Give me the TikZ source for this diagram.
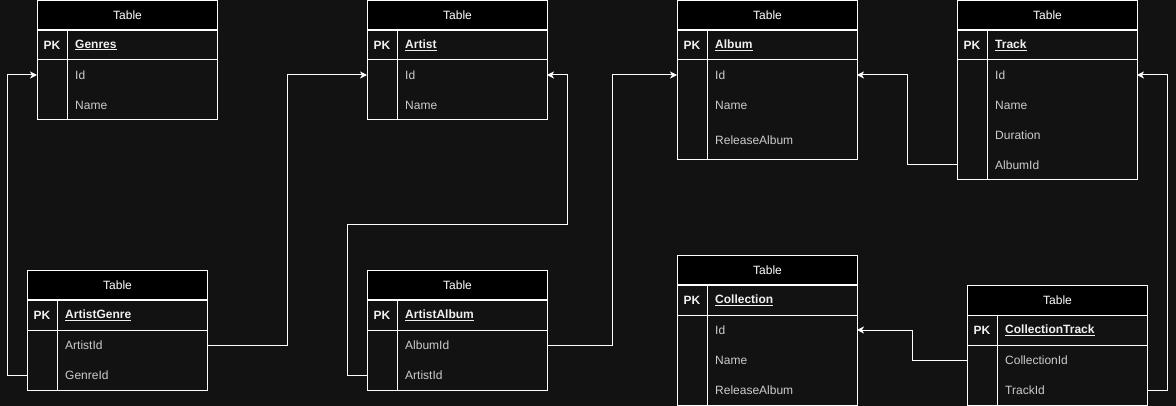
\documentclass[tikz,border=0pt]{standalone}
\usepackage{fontspec}
\setmainfont{Liberation Sans}
\usetikzlibrary{arrows.meta}
\definecolor{bg}{HTML}{121212}
\definecolor{fldtxt}{HTML}{CCCCCC}
\definecolor{keytxt}{HTML}{F0F0F0}
\newcommand\tfont{\fontsize{12}{14}\selectfont}
\tikzset{
  ln/.style={draw=white, line width=1pt},
  hdr/.style={ln, fill=black, minimum width=180pt, minimum height=30pt, inner sep=0pt,
              text=white, font=\tfont, anchor=north west},
  rowbox/.style={minimum width=180pt, inner sep=0pt, outer sep=0pt, anchor=north west},
  ftxt/.style={anchor=west, inner sep=0pt, text=fldtxt, font=\tfont},
  ktxt/.style={anchor=west, inner sep=0pt, text=keytxt, font=\tfont\bfseries},
  pktxt/.style={inner sep=0pt, text=keytxt, font=\tfont\bfseries},
  conn/.style={draw=white, line width=1pt, -{Stealth[length=7pt,width=7pt,inset=2pt]}},
}
% #1 name, #2 x, #3 y, #4 key, #5 body height
\newcommand\ertable[5]{%
  \node[hdr] (#1-h) at (#2,#3) {Table};
  \node[rowbox, ln, minimum height=30pt] (#1-pk) at (#2,#3+30) {};
  \node[pktxt] (#1-pkl) at ([xshift=15pt]#1-pk.west) {PK};
  \node[ktxt] (#1-key) at ([xshift=38pt]#1-pk.west) {\underline{#4}};
  \draw[ln] (#2,#3+60) rectangle (#2+180,#3+60+#5);
  \draw[ln] (#2+30,#3+30) -- (#2+30,#3+60+#5);
}
% #1 name, #2 x, #3 y, #4 height, #5 text
\newcommand\erfield[5]{%
  \node[rowbox, minimum height=#4pt] (#1) at (#2,#3) {};
  \node[ftxt] (#1-t) at ([xshift=38pt]#1.west) {#5};
}
\begin{document}
\begin{tikzpicture}[x=1pt,y=-1pt]
\useasboundingbox (0,0) rectangle (1176,406);
\fill[bg] (0,0) rectangle (1176,406);

% Genres
\ertable{genres}{37}{0}{Genres}{60}
\erfield{genres-id}{37}{60}{30}{Id}
\erfield{genres-name}{37}{90}{30}{Name}

% Artist
\ertable{artist}{367}{0}{Artist}{60}
\erfield{artist-id}{367}{60}{30}{Id}
\erfield{artist-name}{367}{90}{30}{Name}

% Album
\ertable{album}{677}{0}{Album}{100}
\erfield{album-id}{677}{60}{30}{Id}
\erfield{album-name}{677}{90}{30}{Name}
\erfield{album-rel}{677}{120}{40}{ReleaseAlbum}

% Track
\ertable{track}{957}{0}{Track}{120}
\erfield{track-id}{957}{60}{30}{Id}
\erfield{track-name}{957}{90}{30}{Name}
\erfield{track-dur}{957}{120}{30}{Duration}
\erfield{track-albumid}{957}{150}{30}{AlbumId}

% ArtistGenre
\ertable{ag}{27}{270}{ArtistGenre}{60}
\erfield{ag-artistid}{27}{330}{30}{ArtistId}
\erfield{ag-genreid}{27}{360}{30}{GenreId}

% ArtistAlbum
\ertable{aa}{367}{270}{ArtistAlbum}{60}
\erfield{aa-albumid}{367}{330}{30}{AlbumId}
\erfield{aa-artistid}{367}{360}{30}{ArtistId}

% Collection
\ertable{coll}{677}{255}{Collection}{90}
\erfield{coll-id}{677}{315}{30}{Id}
\erfield{coll-name}{677}{345}{30}{Name}
\erfield{coll-rel}{677}{375}{30}{ReleaseAlbum}

% CollectionTrack
\ertable{ct}{967}{285}{CollectionTrack}{60}
\erfield{ct-collid}{967}{345}{30}{CollectionId}
\erfield{ct-trackid}{967}{375}{30}{TrackId}

% Connectors
\draw[conn] (ag-genreid.west) -- ++(-20,0) |- (genres-id.west);
\draw[conn] (ag-artistid.east) -- ++(80,0) |- (artist-id.west);
\draw[conn] (aa-artistid.west) -- ++(-20,0) -- ++(0,-150) -- ++(220,0) |- (artist-id.east);
\draw[conn] (aa-albumid.east) -- ++(65,0) |- (album-id.west);
\draw[conn] (track-albumid.west) -- ++(-50,0) |- (album-id.east);
\draw[conn] (ct-trackid.east) -- ++(20,0) |- (track-id.east);
\draw[conn] (ct-collid.west) -- ++(-55,0) |- (coll-id.east);
\end{tikzpicture}
\end{document}
